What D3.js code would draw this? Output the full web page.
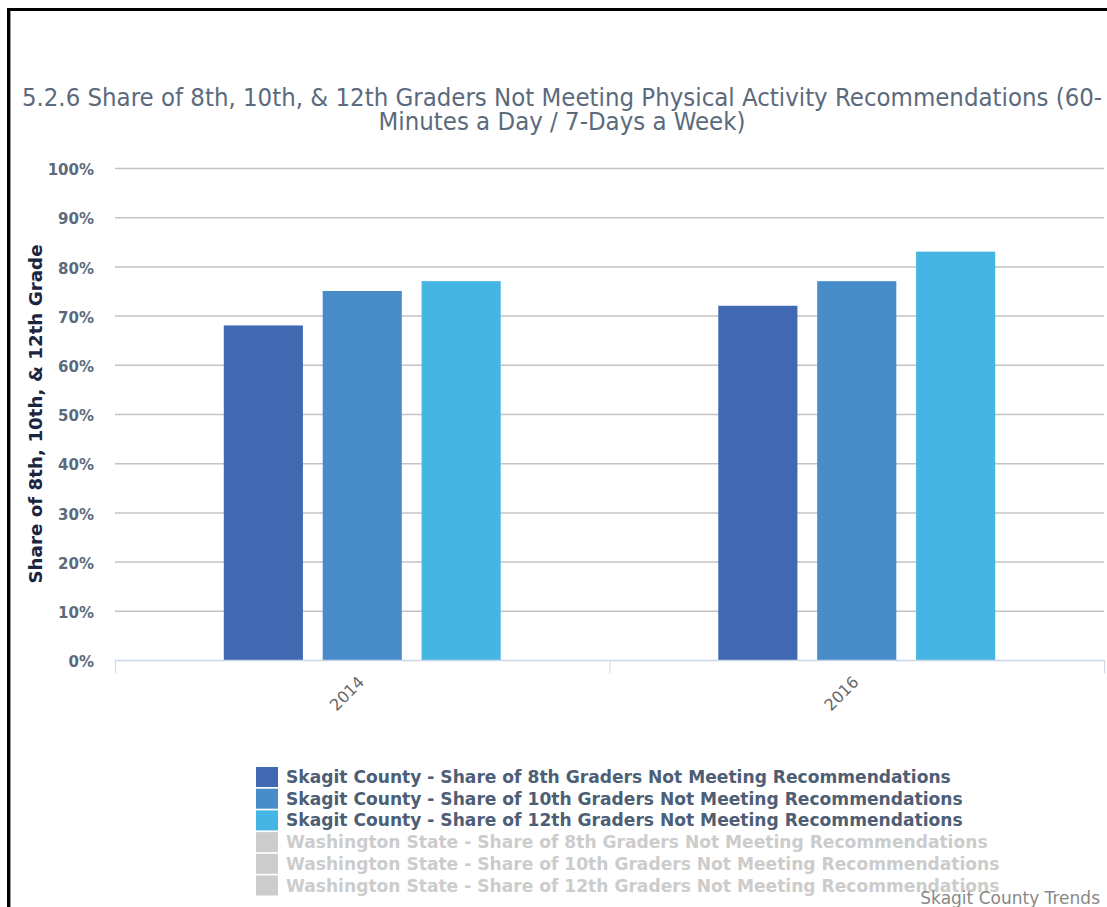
<!DOCTYPE html>
<html><head><meta charset="utf-8">
<script src="https://cdn.jsdelivr.net/npm/d3@7"></script>
<style>html,body{margin:0;padding:0;background:#fff;}svg{display:block;}</style>
</head><body>
<script>
const categories = ["2014", "2016"];
const seriesNames = [
  "Skagit County - Share of 8th Graders Not Meeting Recommendations",
  "Skagit County - Share of 10th Graders Not Meeting Recommendations",
  "Skagit County - Share of 12th Graders Not Meeting Recommendations",
  "Washington State - Share of 8th Graders Not Meeting Recommendations",
  "Washington State - Share of 10th Graders Not Meeting Recommendations",
  "Washington State - Share of 12th Graders Not Meeting Recommendations"
];
const grade8 = [68, 72];
const grade10 = [75, 77];
const grade12 = [77, 83];
const seriesVisible = [true, true, true, false, false, false];
const colors = ["#4169b2", "#488dca", "#45b6e3", "#cccccc", "#cccccc", "#cccccc"];
const yTicks = [0, 10, 20, 30, 40, 50, 60, 70, 80, 90, 100];
const titleLines = ["5.2.6 Share of 8th, 10th, & 12th Graders Not Meeting Physical Activity Recommendations (60-", "Minutes a Day / 7-Days a Week)"];
const yTitle = "Share of 8th, 10th, & 12th Grade";
const credit = "Skagit County Trends";

const W = 1107, H = 907;
const svg = d3.select("body").append("svg").attr("width", W).attr("height", H);
svg.append("rect").attr("width", W).attr("height", H).attr("fill", "#fff");

// frame
svg.append("rect").attr("x", 7).attr("y", 8).attr("width", W - 7).attr("height", 3).attr("fill", "#000");
svg.append("rect").attr("x", 7).attr("y", 8).attr("width", 3).attr("height", H - 8).attr("fill", "#000");
svg.append("rect").attr("x", 10).attr("y", 11).attr("width", 1).attr("height", H - 11).attr("fill", "#999");

const plot = {left: 115, right: 1104, top: 168, bottom: 660};
const x0 = d3.scaleBand().domain(categories).range([plot.left, plot.right]).padding(0);
const bw = x0.bandwidth();
const data = [grade8, grade10, grade12];
const x1 = d3.scaleBand().domain(d3.range(3)).range([0.2 * bw, 0.8 * bw]).paddingInner(0.2).paddingOuter(0.1);
const y = d3.scaleLinear().domain([0, 100]).range([plot.bottom, plot.top]);

// title
const title = svg.append("text").attr("text-anchor", "middle")
  .attr("font-family", "DejaVu Sans Condensed, DejaVu Sans").attr("font-size", 25.5).attr("fill", "#5b6a7c");
titleLines.forEach((t, i) => title.append("tspan").attr("x", 562).attr("y", 106 + i * 23.5).text(t));

// gridlines
svg.append("g").selectAll("line").data(yTicks.filter(d => d > 0)).join("line")
  .attr("x1", plot.left).attr("x2", plot.right)
  .attr("y1", d => y(d) + 0.5).attr("y2", d => y(d) + 0.5)
  .attr("stroke", "#c3c3c3").attr("stroke-width", 1.5);

// y axis labels
const yAxis = d3.axisLeft(y).tickValues(yTicks).tickFormat(d => d + "%").tickSize(0).tickPadding(0);
const yg = svg.append("g").attr("transform", `translate(94,0)`).call(yAxis);
yg.select(".domain").remove();
yg.selectAll("text").attr("font-family", "DejaVu Sans").attr("font-weight", "bold")
  .attr("font-size", 15).attr("fill", "#5b6a7c").attr("dy", "0.45em");

// y title
svg.append("text").attr("transform", `translate(42,${(plot.top + plot.bottom) / 2}) rotate(-90)`)
  .attr("text-anchor", "middle").attr("font-family", "DejaVu Sans").attr("font-weight", "bold")
  .attr("font-size", 18.3).attr("fill", "#1c2540").text(yTitle);

// bars
const groups = svg.append("g").selectAll("g").data(categories).join("g")
  .attr("transform", d => `translate(${x0(d)},0)`);
groups.selectAll("rect").data((c, ci) => data.map((s, si) => ({si, v: s[ci]}))).join("rect")
  .attr("x", d => x1(d.si)).attr("width", x1.bandwidth())
  .attr("y", d => y(d.v)).attr("height", d => y(0) - y(d.v))
  .attr("fill", d => colors[d.si]);

// x axis
svg.append("line").attr("x1", plot.left).attr("x2", plot.right)
  .attr("y1", plot.bottom + 0.5).attr("y2", plot.bottom + 0.5).attr("stroke", "#ccd6eb").attr("stroke-width", 1.5);
const tickXs = categories.map(c => x0(c)).concat([plot.right]);
svg.append("g").selectAll("line").data(tickXs).join("line")
  .attr("x1", d => d + 0.5).attr("x2", d => d + 0.5)
  .attr("y1", plot.bottom).attr("y2", plot.bottom + 13).attr("stroke", "#ccd6eb").attr("stroke-width", 1);
svg.append("g").selectAll("text").data(categories).join("text")
  .attr("transform", d => `translate(${x0(d) + bw / 2 + 3},${plot.bottom + 23}) rotate(-45)`)
  .attr("text-anchor", "end").attr("font-family", "DejaVu Sans").attr("font-size", 16)
  .attr("fill", "#666").text(d => d);

// legend
const lg = svg.append("g");
seriesNames.forEach((n, i) => {
  const yy = 767 + i * 21.7;
  lg.append("rect").attr("x", 256).attr("y", yy).attr("width", 22).attr("height", 20)
    .attr("fill", seriesVisible[i] ? colors[i] : "#cccccc");
  lg.append("text").attr("x", 286).attr("y", yy + 16).attr("font-family", "DejaVu Sans")
    .attr("font-weight", "bold").attr("font-size", 17.1)
    .attr("fill", seriesVisible[i] ? "#4d5e75" : "#cccccc").text(n);
});

// credit
svg.append("text").attr("x", 1100).attr("y", 904).attr("text-anchor", "end")
  .attr("font-family", "DejaVu Sans").attr("font-size", 17).attr("fill", "#888").text(credit);
</script>
</body></html>
